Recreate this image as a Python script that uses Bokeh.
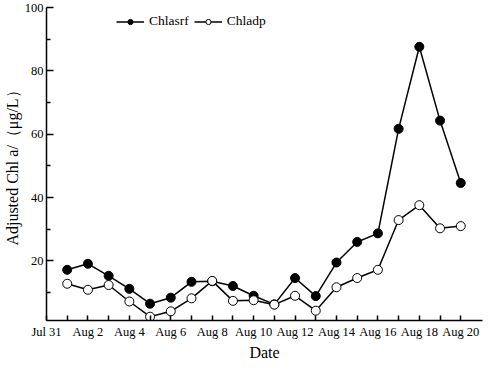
from bokeh.plotting import figure
from bokeh.models import Range1d, FixedTicker, Legend, LegendItem
from bokeh.embed import file_html
from bokeh.resources import INLINE

# ---- data (day offset from Jul 31) ----
days = list(range(1, 21))
chlasrf = [17.2, 19.1, 15.3, 11.2, 6.5, 8.4, 13.4, 13.6, 12.1, 9.0,
           6.3, 14.6, 8.9, 19.5, 26.0, 28.7, 61.7, 87.6, 64.3, 44.6]
chladp = [12.8, 10.9, 12.4, 7.2, 2.4, 4.1, 8.2, 13.7, 7.4, 7.6,
          6.2, 9.0, 4.3, 11.7, 14.6, 17.2, 32.9, 37.6, 30.3, 31.0]
tick_days = [0, 2, 4, 6, 8, 10, 12, 14, 16, 18, 20]
tick_labels = ["Jul 31", "Aug 2", "Aug 4", "Aug 6", "Aug 8", "Aug 10",
               "Aug 12", "Aug 14", "Aug 16", "Aug 18", "Aug 20"]
minor_days = [1, 3, 5, 7, 9, 11, 13, 15, 17, 19]
y_major = [20, 40, 60, 80, 100]
y_minor = [10, 30, 50, 70, 90]

FONT = "Liberation Serif"

p = figure(width=484, height=363, output_backend="svg", toolbar_location=None,
           x_range=Range1d(0, 21.05), y_range=Range1d(1.2, 100),
           min_border_left=38, min_border_right=2, min_border_top=7,
           min_border_bottom=37)
p.outline_line_color = None
p.grid.visible = False
p.background_fill_color = "white"

# axes
p.xaxis.ticker = FixedTicker(ticks=tick_days, minor_ticks=minor_days)
p.xaxis.major_label_overrides = {d: l for d, l in zip(tick_days, tick_labels)}
p.yaxis.ticker = FixedTicker(ticks=y_major, minor_ticks=y_minor)
for ax in (p.xaxis[0], p.yaxis[0]):
    ax.axis_line_width = 1.5
    ax.axis_line_color = "black"
    ax.major_tick_line_color = "black"
    ax.minor_tick_line_color = "black"
    ax.major_tick_line_width = 1.5
    ax.minor_tick_line_width = 1.5
    ax.major_tick_out = 0
    ax.minor_tick_out = 0
    ax.major_label_text_font = FONT
    ax.major_label_text_font_size = "12.5px"
    ax.major_label_text_color = "black"
    ax.axis_label_text_font = FONT
    ax.axis_label_text_font_style = "normal"
    ax.axis_label_text_font_size = "16px"
    ax.axis_label_text_color = "black"

p.xaxis.major_tick_in = 5
p.xaxis.minor_tick_in = 5
p.xaxis.major_label_standoff = 4
p.xaxis.axis_label = "Date"
p.xaxis.axis_label_standoff = 2

p.yaxis.major_tick_in = 7
p.yaxis.minor_tick_in = 4
p.yaxis.major_label_standoff = 3
p.yaxis.axis_label = "Adjusted Chl a/（μg/L）"
p.yaxis.axis_label_standoff = 1

# series
l1 = p.line(days, chlasrf, line_color="black", line_width=1.5)
s1 = p.scatter(days, chlasrf, size=9, marker="circle", fill_color="black",
               line_color="black", line_width=1)
l2 = p.line(days, chladp, line_color="black", line_width=1.5)
s2 = p.scatter(days, chladp, size=9, marker="circle", fill_color="white",
               line_color="black", line_width=1)

legend = Legend(items=[LegendItem(label="Chlasrf", renderers=[l1, s1]),
                       LegendItem(label="Chladp", renderers=[l2, s2])],
                orientation="horizontal", location=(70, 291),
                glyph_width=28, glyph_height=13, label_height=13,
                label_standoff=5, spacing=5, padding=0, margin=0,
                border_line_color=None, background_fill_alpha=0,
                label_text_font=FONT, label_text_font_size="13.5px",
                label_text_color="black")
p.add_layout(legend)

open("out.html", "w").write(file_html(p, INLINE))
